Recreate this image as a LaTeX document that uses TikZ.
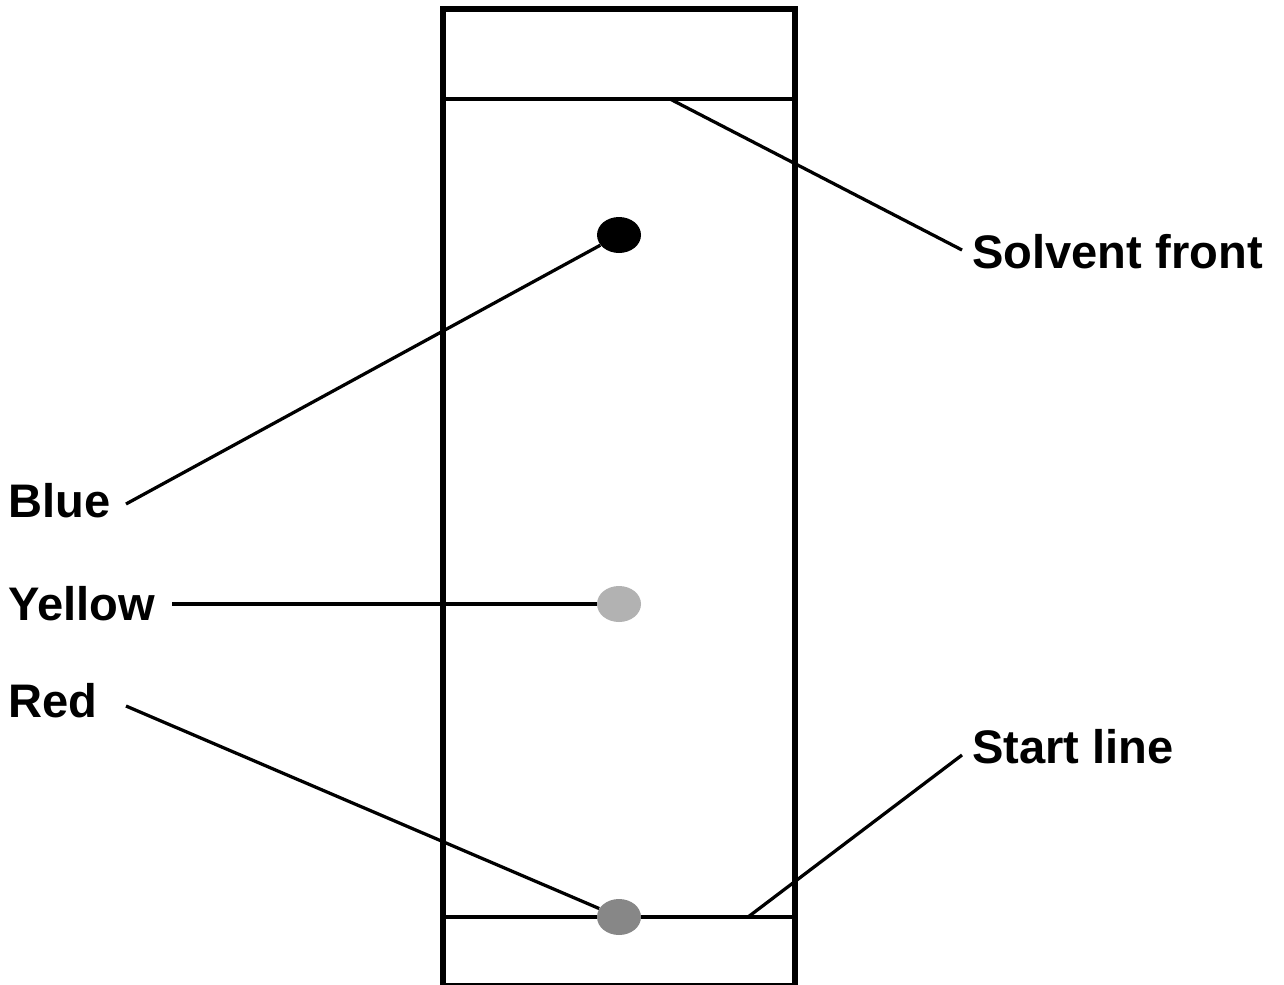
\documentclass[tikz,border=0pt]{standalone}
\usepackage{fontspec}
\setmainfont{Liberation Sans}
\usetikzlibrary{shapes.geometric}
\begin{document}
\begin{tikzpicture}[x=0.02cm,y=-0.02cm,
  plate/.style={line width=0.12cm},
  mark line/.style={line width=0.065cm},
  leader/.style={line width=0.065cm},
  spot/.style={ellipse,draw=none,minimum width=0.88cm,minimum height=0.72cm,inner sep=0pt},
  lbl/.style={font=\bfseries\fontsize{26.8}{30}\selectfont,anchor=base west,inner sep=0pt}]
\fill[white] (0,0) rectangle (1284,984);
\useasboundingbox (0,0) rectangle (1284,984);
% plate
\draw[plate] (443,9) rectangle (795,986);
\coordinate (sfL) at (446,99);
\coordinate (sfR) at (792,99);
\coordinate (slL) at (446,917);
\coordinate (slR) at (792,917);
\draw[mark line] (sfL) -- (sfR);
\draw[mark line] (slL) -- (slR);
% spots
\node[spot,fill=black] (blue) at (619,235) {};
\node[spot,fill=black!30] (yellow) at (619,604) {};
\node[spot,fill=black!47] (red) at (619,917) {};
% labels
\node[lbl] (tsf) at (972,268) {Solvent front};
\node[lbl] (tsl) at (972,763) {Start line};
\node[lbl] (tb) at (8,517) {Blue};
\node[lbl] (ty) at (8,620) {Yellow};
\node[lbl] (tr) at (8,717) {Red};
% leader ends
\coordinate (sfA) at (670,99);
\coordinate (sfB) at (962,250);
\coordinate (slA) at (748,917);
\coordinate (slB) at (962,755);
\coordinate (bA) at (126,504);
\coordinate (yA) at (172,604);
\coordinate (rA) at (126,706);
\draw[leader] (sfA) -- (sfB);
\draw[leader] (slA) -- (slB);
\draw[leader] (bA) -- (blue);
\draw[leader] (yA) -- (yellow);
\draw[leader] (rA) -- (red);
\end{tikzpicture}
\end{document}
